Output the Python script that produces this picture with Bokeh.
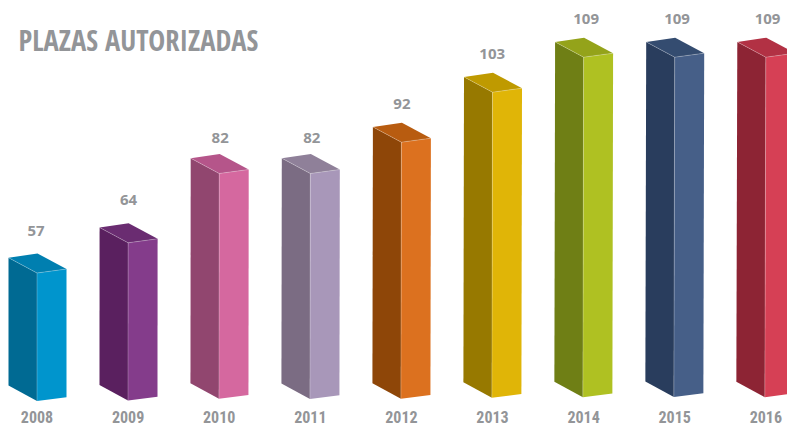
from bokeh.plotting import figure
from bokeh.models import Range1d
from bokeh.embed import file_html
from bokeh.resources import INLINE
from bokeh.core.properties import value

years = ["2008", "2009", "2010", "2011", "2012", "2013", "2014", "2015", "2016"]
plazas = [57, 64, 82, 82, 92, 103, 109, 109, 109]
# bar heights as drawn in the picture (the original is not strictly linear)
drawn = [128, 157.7, 225.3, 225.5, 256.6, 305.6, 340, 339.8, 340]
base_level = [400.5, 400, 398.3, 398.5, 398.3, 397.3, 396.7, 396.5, 396.7]
front_colors = ["#0095CD", "#843C8B", "#D5689F", "#A897B9", "#DC711F", "#E0B507", "#AFC122", "#465F88", "#D64055"]
side_colors = ["#006A93", "#5A205F", "#91466F", "#7B6C83", "#8E4608", "#977900", "#6F7F15", "#293D5D", "#8D2434"]
top_colors = ["#007FB0", "#6A2C71", "#B5558A", "#8F8099", "#B85C10", "#BF9A00", "#94A31A", "#344C70", "#B23144"]
title = "PLAZAS AUTORIZADAS"
GREY = "#939598"

# layout
label_gap = [42, 43, 36, 36, 38, 38, 38, 38, 38]
label_shift = [-1, 0.5, 1, 1.5, 0.5, -0.3, 2.5, 2.3, 1.7]

W, H = 787, 426
p = figure(width=W, height=H, x_range=Range1d(0, W), y_range=Range1d(H, 0),
           toolbar_location=None, output_backend="svg", min_border=0,
           outline_line_color=None)
p.axis.visible = False
p.grid.visible = False

PITCH = 91.1
X0 = 36.5
for i, (yr, v, d, b) in enumerate(zip(years, plazas, drawn, base_level)):
    x = X0 + PITCH * i
    xb = x - i * 0.12
    top = b - d
    # left face, right face, top face
    p.patch([x - 28.5, x, xb, xb - 28.5], [top - 15.3, top, b, b - 15.5],
            fill_color=side_colors[i], line_color=None)
    p.patch([x, x + 29.5, xb + 29.5, xb], [top, top - 4, b - 3.8, b],
            fill_color=front_colors[i], line_color=None)
    p.patch([x - 28.5, x + 0.5, x + 29.5, x], [top - 15.3, top - 19.5, top - 4, top],
            fill_color=top_colors[i], line_color=None)
    # thin light edges
    p.line([x - 28.5, x, x + 29.5], [top - 15.3, top, top - 4], line_color="white", line_alpha=0.35, line_width=0.7)
    p.line([x, xb], [top, b], line_color="white", line_alpha=0.35, line_width=0.7)
    p.text([x + label_shift[i]], [top - label_gap[i]], text=[str(v)], text_font=value("Open Sans"), text_font_style="bold",
           text_font_size="15px", text_color=GREY, text_align="center", text_baseline="middle")
    p.text([x], [416.5], text=[yr], text_font=value("Roboto Condensed"), text_font_style="bold",
           text_font_size="16px", text_color=GREY, text_align="center", text_baseline="middle")

p.text([18], [39.5], text=[title], text_font=value("Open Sans Condensed"), text_font_style="bold",
       text_font_size="28.5px", text_color=GREY, text_align="left", text_baseline="middle")

open("out.html", "w").write(file_html(p, INLINE))
